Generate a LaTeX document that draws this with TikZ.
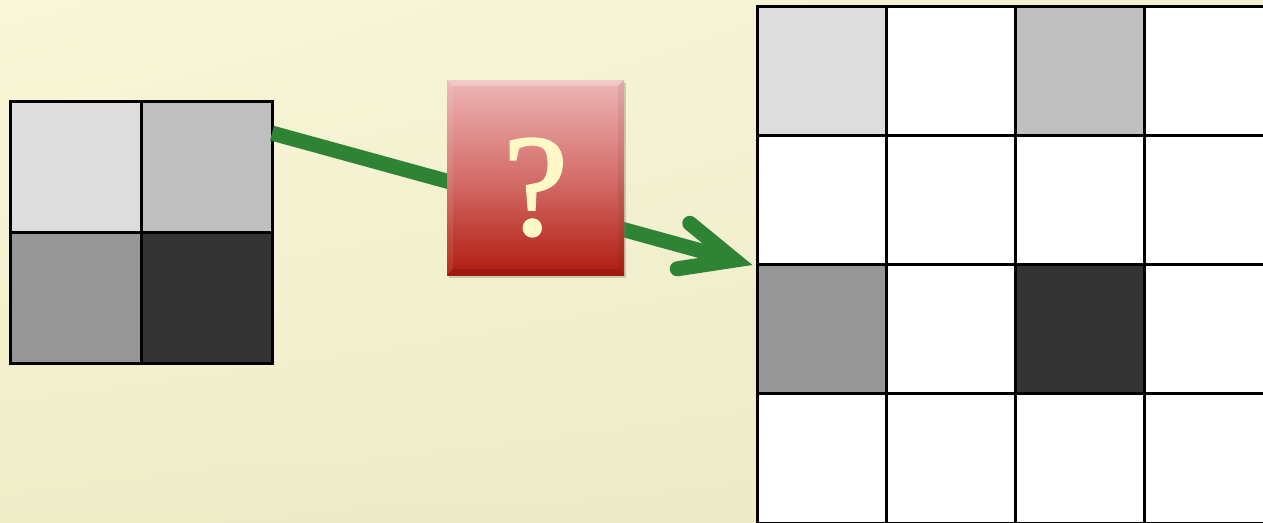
\documentclass[tikz,border=0pt]{standalone}
\usepackage{fontspec}
\newfontfamily\qfont[FakeBold=1.6]{Liberation Serif}
\usetikzlibrary{calc,shadows,shadings}
\definecolor{arrowgreen}{RGB}{46,132,52}
\definecolor{bgUL}{RGB}{250,247,216}
\definecolor{bgUR}{RGB}{242,240,210}
\definecolor{bgLL}{RGB}{239,236,200}
\definecolor{bgLR}{RGB}{236,234,200}
\definecolor{gA}{RGB}{221,221,221}
\definecolor{gB}{RGB}{191,191,191}
\definecolor{gC}{RGB}{150,150,150}
\definecolor{gD}{RGB}{51,51,51}
\definecolor{qtop}{RGB}{237,182,182}
\definecolor{qmid}{RGB}{212,110,106}
\definecolor{qbot}{RGB}{176,28,16}
\definecolor{qtext}{RGB}{255,249,198}
\tikzset{
  cellbig/.style={draw=black, line width=3pt, minimum size=131pt, inner sep=0pt, outer sep=0pt, fill=white},
  cellsmall/.style={draw=black, line width=3pt, minimum size=129.3pt, inner sep=0pt, outer sep=0pt, fill=white},
  qbox/.style={minimum width=177pt, minimum height=195pt, inner sep=0pt,
     top color=qtop, bottom color=qbot, middle color=qmid,
     drop shadow={opacity=0.35, shadow xshift=2pt, shadow yshift=-3pt}},
  qmark/.style={font=\qfont\fontsize{145}{145}\selectfont, text=qtext, inner sep=0pt},
  shaft/.style={draw=arrowgreen, line width=15pt},
  head/.style={draw=arrowgreen, line width=15pt, line cap=round, line join=miter}
}
\begin{document}
\begin{tikzpicture}[x=1pt,y=-1pt]
\useasboundingbox (0,0) rectangle (1263,522);
\shade[upper left=bgUL, upper right=bgUR, lower left=bgLL, lower right=bgLR] (0,0) rectangle (1263,522);

% left grid
\node[cellbig, fill=gA] (L11) at (75.5,166.5) {};
\node[cellbig, fill=gB] (L12) at (206.5,166.5) {};
\node[cellbig, fill=gC] (L21) at (75.5,297.5) {};
\node[cellbig, fill=gD] (L22) at (206.5,297.5) {};

% right grid
\foreach \r in {1,...,4}{
  \foreach \c in {1,...,4}{
    \node[cellsmall] (R\r\c) at ({757+64.65+(\c-1)*129.3},{6+64.65+(\r-1)*129.3}) {};
  }
}
\node[cellsmall, fill=gA] at (R11) {};
\node[cellsmall, fill=gB] at (R13) {};
\node[cellsmall, fill=gC] at (R31) {};
\node[cellsmall, fill=gD] at (R33) {};

% connector
\coordinate (start) at ($(L12.north east)!0.245!(L12.south east)$);
\coordinate (tip) at ($(R31.north west)+(-6,0)$);
\coordinate (v) at ($(tip)!17pt!(start)$);
\draw[shaft] (start) -- (v);

% question box
\node[qbox] (Q) at (535.5,177.5) {};
\fill[white, opacity=0.28] (Q.north west) -- (Q.north east) -- ++(-6,6) -- ($(Q.north west)+(6,6)$) -- cycle;
\fill[black, opacity=0.12] (Q.south west) -- (Q.south east) -- ++(-6,-6) -- ($(Q.south west)+(6,-6)$) -- cycle;
\fill[black, opacity=0.06] (Q.north east) -- (Q.south east) -- ++(-6,-6) -- ($(Q.north east)+(-6,6)$) -- cycle;
\fill[white, opacity=0.08] (Q.north west) -- (Q.south west) -- ++(6,-6) -- ($(Q.north west)+(6,6)$) -- cycle;
\node[qmark] (QM) at ($(Q.center)+(0,10)$) {?};

% arrow head
\draw[head] ($(v)!58pt!-24:(start)$) -- (v) -- ($(v)!58pt!24:(start)$);
\end{tikzpicture}
\end{document}
